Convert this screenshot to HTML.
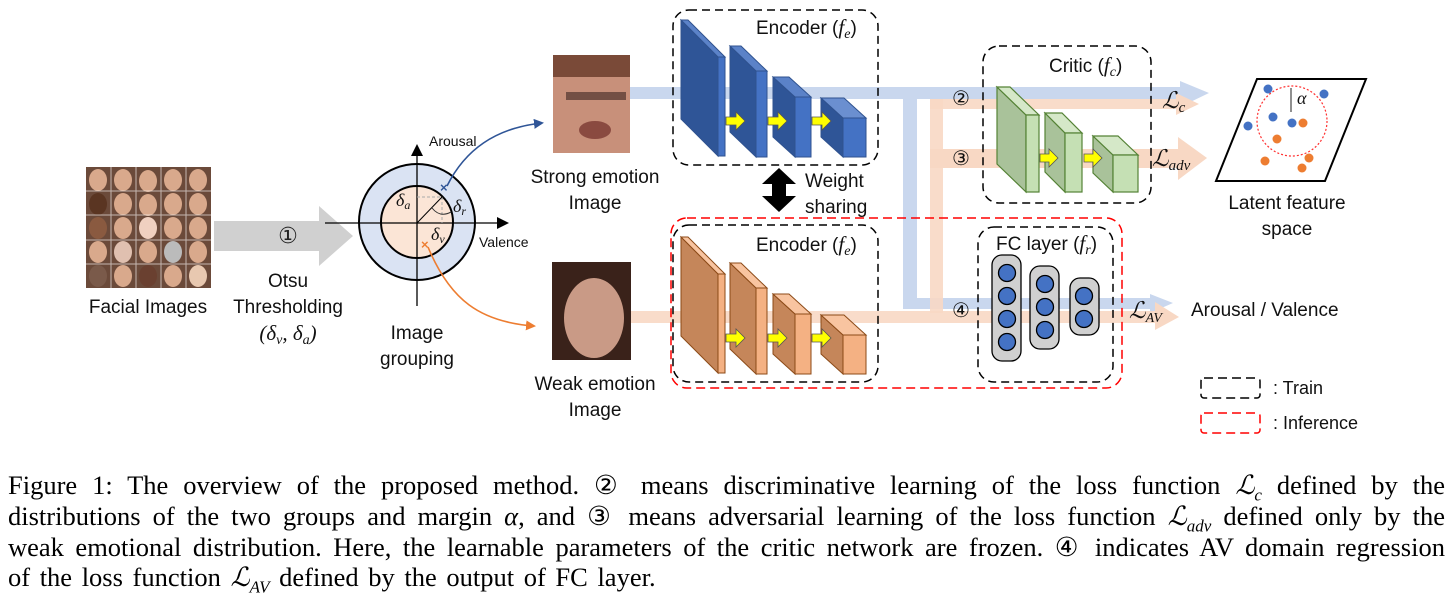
<!DOCTYPE html>
<html><head><meta charset="utf-8"><style>
html,body{margin:0;padding:0;background:#fff;}
body{width:1453px;height:596px;position:relative;overflow:hidden;}
svg{position:absolute;left:0;top:0;}
.s{font-family:"Liberation Sans",sans-serif;fill:#111;}
.m{font-family:"Liberation Serif",serif;font-style:italic;fill:#111;}
.cap{position:absolute;left:8px;width:1437px;font-family:"Liberation Serif",serif;font-size:26.5px;line-height:30px;color:#000;white-space:nowrap;}
.j{text-align:justify;text-align-last:justify;}
.cap i{font-family:"Liberation Serif",serif;}
.cap sub{font-size:17px;line-height:0;}
</style></head><body>
<svg width="1453" height="470" viewBox="0 0 1453 470">
<defs>
<marker id="ab" markerWidth="10" markerHeight="10" refX="8" refY="5" orient="auto" markerUnits="userSpaceOnUse"><path d="M0,0 L10,5 L0,10 Z" fill="#2f5597"/></marker>
<marker id="ao" markerWidth="10" markerHeight="10" refX="8" refY="5" orient="auto" markerUnits="userSpaceOnUse"><path d="M0,0 L10,5 L0,10 Z" fill="#ed7d31"/></marker>
<marker id="ak" markerWidth="12" markerHeight="12" refX="10" refY="6" orient="auto" markerUnits="userSpaceOnUse"><path d="M0,0 L12,6 L0,12 Z" fill="#000"/></marker>
</defs>

<!-- face grid -->
<g>
<rect x="86" y="167" width="125" height="121" fill="#6b4a3a"/>
<g fill="#d9a98c">
<ellipse cx="98" cy="180" rx="9" ry="11"/><ellipse cx="123" cy="180" rx="9" ry="11"/><ellipse cx="148" cy="181" rx="9" ry="11"/><ellipse cx="173" cy="180" rx="9" ry="11"/><ellipse cx="198" cy="180" rx="9" ry="11"/>
<ellipse cx="98" cy="204" rx="9" ry="11" fill="#5a3522"/><ellipse cx="123" cy="204" rx="9" ry="11"/><ellipse cx="148" cy="205" rx="9" ry="11"/><ellipse cx="173" cy="204" rx="9" ry="11"/><ellipse cx="198" cy="204" rx="9" ry="11"/>
<ellipse cx="98" cy="228" rx="9" ry="11" fill="#8a5a40"/><ellipse cx="123" cy="228" rx="9" ry="11"/><ellipse cx="148" cy="228" rx="9" ry="11" fill="#f0d0c0"/><ellipse cx="173" cy="228" rx="9" ry="11"/><ellipse cx="198" cy="228" rx="9" ry="11"/>
<ellipse cx="98" cy="252" rx="9" ry="11"/><ellipse cx="123" cy="252" rx="9" ry="11" fill="#e0c0b0"/><ellipse cx="148" cy="252" rx="9" ry="11"/><ellipse cx="173" cy="252" rx="9" ry="11" fill="#bbb"/><ellipse cx="198" cy="252" rx="9" ry="11"/>
<ellipse cx="98" cy="276" rx="9" ry="11" fill="#7a5a4a"/><ellipse cx="123" cy="276" rx="9" ry="11"/><ellipse cx="148" cy="276" rx="9" ry="11" fill="#6a4030"/><ellipse cx="173" cy="276" rx="9" ry="11"/><ellipse cx="198" cy="276" rx="9" ry="11" fill="#e8c8b0"/>
</g>
<g stroke="#fff" stroke-width="1" opacity="0.6"><line x1="111" y1="167" x2="111" y2="288"/><line x1="136" y1="167" x2="136" y2="288"/><line x1="161" y1="167" x2="161" y2="288"/><line x1="186" y1="167" x2="186" y2="288"/><line x1="86" y1="191" x2="211" y2="191"/><line x1="86" y1="215" x2="211" y2="215"/><line x1="86" y1="240" x2="211" y2="240"/><line x1="86" y1="264" x2="211" y2="264"/></g>
</g>
<text class="s" x="148" y="313" font-size="19" text-anchor="middle">Facial Images</text>

<!-- gray arrow -->
<path d="M214,221 L319,221 L319,206 L353,236 L319,266 L319,251 L214,251 Z" fill="#d0d0d0"/>
<text x="288" y="243" font-size="22" text-anchor="middle" font-family="DejaVu Sans,sans-serif" fill="#222">①</text>
<text class="s" x="288" y="287" font-size="19" text-anchor="middle">Otsu</text>
<text class="s" x="288" y="313" font-size="19" text-anchor="middle">Thresholding</text>
<text class="m" x="288" y="340" font-size="21" text-anchor="middle">(δ<tspan font-size="14" dy="4">v</tspan><tspan dy="-4">, δ</tspan><tspan font-size="14" dy="4">a</tspan><tspan dy="-4">)</tspan></text>

<!-- circle -->
<circle cx="417" cy="222" r="58" fill="#dae3f3" stroke="#000" stroke-width="2"/>
<circle cx="417" cy="222" r="36" fill="#fbe5d6" stroke="#000" stroke-width="2"/>
<line x1="417" y1="306" x2="417" y2="146" stroke="#000" stroke-width="1.3" marker-end="url(#ak)"/>
<line x1="325" y1="223" x2="507" y2="223" stroke="#000" stroke-width="1.3" marker-end="url(#ak)"/>
<line x1="417" y1="197" x2="442" y2="197" stroke="#aaa" stroke-dasharray="3,2"/>
<line x1="442" y1="197" x2="442" y2="223" stroke="#aaa" stroke-dasharray="3,2"/>
<line x1="417" y1="223" x2="442" y2="197" stroke="#000"/>
<path d="M432,208 Q440,218 451,212" fill="none" stroke="#333"/>
<text class="m" x="396" y="206" font-size="18">δ<tspan font-size="12" dy="3">a</tspan></text>
<text class="m" x="453" y="212" font-size="18">δ<tspan font-size="12" dy="3">r</tspan></text>
<text class="m" x="431" y="240" font-size="18">δ<tspan font-size="12" dy="3">v</tspan></text>
<text class="s" x="429" y="146" font-size="14">Arousal</text>
<text class="s" x="479" y="247" font-size="14">Valence</text>
<text class="s" x="417" y="339" font-size="19" text-anchor="middle">Image</text>
<text class="s" x="417" y="365" font-size="19" text-anchor="middle">grouping</text>
<text x="440" y="192" font-size="13" fill="#2f5597" font-weight="bold" font-family="Liberation Sans,sans-serif">×</text>
<text x="421" y="249" font-size="13" fill="#ed7d31" font-weight="bold" font-family="Liberation Sans,sans-serif">×</text>
<path d="M447,186 C465,150 495,128 542,123" fill="none" stroke="#2f5597" stroke-width="1.6" marker-end="url(#ab)"/>
<path d="M428,247 C450,300 480,322 534,326" fill="none" stroke="#ed7d31" stroke-width="1.6" marker-end="url(#ao)"/>

<!-- bands -->
<rect x="590" y="87" width="590" height="12" fill="#c9d7ee"/>
<path d="M1180,81 L1209,93 L1180,107 Z" fill="#c9d7ee"/>
<rect x="903" y="93" width="14" height="215" fill="#c9d7ee"/>
<rect x="903" y="298" width="250" height="11" fill="#c9d7ee"/>
<path d="M1150,294 L1173,303 L1150,313 Z" fill="#c9d7ee"/>
<rect x="930" y="99" width="248" height="10" fill="#f8d8c4" opacity="0.9"/>
<path d="M1176,93 L1199,104 L1176,115 Z" fill="#f8d8c4"/>
<rect x="930" y="99" width="13" height="214" fill="#f8d8c4" opacity="0.9"/>
<rect x="930" y="149" width="250" height="19" fill="#f8d8c4"/>
<path d="M1178,137 L1207,158 L1178,180 Z" fill="#f8d8c4"/>
<rect x="590" y="311" width="570" height="12" fill="#f8d8c4" opacity="0.9"/>
<path d="M1155,302 L1179,317 L1155,330 Z" fill="#f8d8c4"/>

<!-- photos -->
<rect x="553" y="55" width="77" height="98" fill="#c8907a"/>
<rect x="553" y="55" width="77" height="22" fill="#7a4a38"/>
<rect x="566" y="92" width="60" height="8" fill="#3a2520" opacity="0.6"/>
<ellipse cx="595" cy="130" rx="16" ry="9" fill="#8a4a40"/>
<rect x="552" y="262" width="79" height="98" fill="#3a221a"/>
<ellipse cx="594" cy="318" rx="30" ry="40" fill="#c99a86"/>
<path d="M560,300 Q590,255 628,300 L628,272 L560,272 Z" fill="#3a221a"/>
<text class="s" x="595" y="183" font-size="19" text-anchor="middle">Strong emotion</text>
<text class="s" x="595" y="209" font-size="19" text-anchor="middle">Image</text>
<text class="s" x="595" y="390" font-size="19" text-anchor="middle">Weak emotion</text>
<text class="s" x="595" y="416" font-size="19" text-anchor="middle">Image</text>

<!-- encoder blue -->
<rect x="673" y="10" width="205" height="155" rx="16" fill="none" stroke="#000" stroke-width="1.5" stroke-dasharray="8,5"/>
<text class="s" x="756" y="34" font-size="19">Encoder (<tspan class="m" font-size="21">f</tspan><tspan class="m" font-size="14" dy="4">e</tspan><tspan dy="-4">)</tspan></text>
<g stroke="#2f528f" stroke-width="1">
<polygon points="681,20 718,57 718,156 681,119" fill="#2f5597"/><polygon points="681,20 688,20 725,57 718,57" fill="#5b82c8"/><rect x="718" y="57" width="7" height="99" fill="#4472c4"/>
<polygon points="730,46 756,71 756,157 730,132" fill="#2f5597"/><polygon points="730,46 741,46 767,71 756,71" fill="#5b82c8"/><rect x="756" y="71" width="11" height="86" fill="#4472c4"/>
<polygon points="773,77 795,97 795,157 773,137" fill="#2f5597"/><polygon points="773,77 789,77 811,97 795,97" fill="#5b82c8"/><rect x="795" y="97" width="16" height="60" fill="#4472c4"/>
<polygon points="821,98 843,118 843,157 821,137" fill="#2f5597"/><polygon points="821,98 844,98 866,118 843,118" fill="#6b8fd0"/><rect x="843" y="118" width="23" height="39" fill="#4472c4"/>
</g>
<g fill="#ffff00" stroke="#555" stroke-width="0.8">
<path d="M726,117 L736,117 L736,112 L745,121 L736,130 L736,125 L726,125 Z"/>
<path d="M768,117 L778,117 L778,112 L787,121 L778,130 L778,125 L768,125 Z"/>
<path d="M812,117 L822,117 L822,112 L831,121 L822,130 L822,125 L812,125 Z"/>
</g>

<!-- weight sharing -->
<path d="M779,168 L796,184 L786,184 L786,196 L796,196 L779,212 L762,196 L772,196 L772,184 L762,184 Z" fill="#000"/>
<text class="s" x="805" y="187" font-size="19">Weight</text>
<text class="s" x="805" y="213" font-size="19">sharing</text>

<!-- red inference box -->
<rect x="671" y="218" width="451" height="170" rx="16" fill="none" stroke="#ff0000" stroke-width="1.5" stroke-dasharray="9,5"/>

<!-- encoder orange -->
<rect x="673" y="225" width="205" height="157" rx="16" fill="none" stroke="#000" stroke-width="1.5" stroke-dasharray="8,5"/>
<text class="s" x="756" y="251" font-size="19">Encoder (<tspan class="m" font-size="21">f</tspan><tspan class="m" font-size="14" dy="4">e</tspan><tspan dy="-4">)</tspan></text>
<g stroke="#8c4a17" stroke-width="1">
<polygon points="681,237 718,274 718,373 681,336" fill="#c5865a"/><polygon points="681,237 688,237 725,274 718,274" fill="#f8c4a0"/><rect x="718" y="274" width="7" height="99" fill="#f4b183"/>
<polygon points="730,263 756,288 756,374 730,349" fill="#c5865a"/><polygon points="730,263 741,263 767,288 756,288" fill="#f8c4a0"/><rect x="756" y="288" width="11" height="86" fill="#f4b183"/>
<polygon points="773,294 795,314 795,374 773,354" fill="#c5865a"/><polygon points="773,294 789,294 811,314 795,314" fill="#f8c4a0"/><rect x="795" y="314" width="16" height="60" fill="#f4b183"/>
<polygon points="821,315 843,335 843,374 821,354" fill="#c5865a"/><polygon points="821,315 844,315 866,335 843,335" fill="#f8c4a0"/><rect x="843" y="335" width="23" height="39" fill="#f4b183"/>
</g>
<g fill="#ffff00" stroke="#555" stroke-width="0.8">
<path d="M726,334 L736,334 L736,329 L745,338 L736,347 L736,342 L726,342 Z"/>
<path d="M768,334 L778,334 L778,329 L787,338 L778,347 L778,342 L768,342 Z"/>
<path d="M812,334 L822,334 L822,329 L831,338 L822,347 L822,342 L812,342 Z"/>
</g>

<!-- critic -->
<rect x="983" y="46" width="168" height="157" rx="16" fill="none" stroke="#000" stroke-width="1.5" stroke-dasharray="8,5"/>
<text class="s" x="1049" y="72" font-size="19">Critic (<tspan class="m" font-size="21">f</tspan><tspan class="m" font-size="14" dy="4">c</tspan><tspan dy="-4">)</tspan></text>
<g stroke="#548235" stroke-width="1.2">
<polygon points="997,87 1026,115 1026,192 997,164" fill="#a9c29a"/><polygon points="997,87 1010,87 1039,115 1026,115" fill="#d5e8c8"/><rect x="1026" y="115" width="13" height="77" fill="#c5e0b4"/>
<polygon points="1045,113 1065,133 1065,192 1045,172" fill="#a9c29a"/><polygon points="1045,113 1062,113 1082,133 1065,133" fill="#d5e8c8"/><rect x="1065" y="133" width="17" height="59" fill="#c5e0b4"/>
<polygon points="1093,136 1113,155 1113,192 1093,173" fill="#a9c29a"/><polygon points="1093,136 1118,136 1138,155 1113,155" fill="#d5e8c8"/><rect x="1113" y="155" width="25" height="37" fill="#c5e0b4"/>
</g>
<g fill="#ffff00" stroke="#555" stroke-width="0.8">
<path d="M1040,154 L1049,154 L1049,149 L1058,158 L1049,167 L1049,162 L1040,162 Z"/>
<path d="M1084,154 L1093,154 L1093,149 L1102,158 L1093,167 L1093,162 L1084,162 Z"/>
</g>

<!-- FC layer -->
<rect x="978" y="227" width="135" height="155" rx="16" fill="none" stroke="#000" stroke-width="1.5" stroke-dasharray="8,5"/>
<text class="s" x="996" y="250" font-size="19">FC layer (<tspan class="m" font-size="21">f</tspan><tspan class="m" font-size="14" dy="4">r</tspan><tspan dy="-4">)</tspan></text>
<g stroke="#000" stroke-width="1.3">
<rect x="992" y="255" width="29" height="106" rx="10" fill="#d0d0d0"/>
<rect x="1030" y="266" width="29" height="83" rx="10" fill="#d0d0d0"/>
<rect x="1070" y="278" width="29" height="57" rx="10" fill="#d0d0d0"/>
<g fill="#4472c4">
<circle cx="1007" cy="273" r="8.5"/><circle cx="1007" cy="296" r="8.5"/><circle cx="1007" cy="319" r="8.5"/><circle cx="1007" cy="342" r="8.5"/>
<circle cx="1045" cy="284" r="8.5"/><circle cx="1045" cy="307" r="8.5"/><circle cx="1045" cy="330" r="8.5"/>
<circle cx="1084" cy="296" r="8.5"/><circle cx="1084" cy="319" r="8.5"/>
</g></g>

<!-- circled numbers -->
<g font-family="DejaVu Sans,sans-serif" font-size="20" fill="#111" text-anchor="middle">
<text x="961" y="105">②</text><text x="961" y="165">③</text><text x="961" y="317">④</text>
</g>
<text class="m" x="1162" y="108" font-size="23">ℒ<tspan font-size="15" dy="4">c</tspan></text>
<text class="m" x="1152" y="166" font-size="23">ℒ<tspan font-size="15" dy="4">adv</tspan></text>
<text class="m" x="1129" y="318" font-size="23">ℒ<tspan font-size="14" dy="4">AV</tspan></text>
<text class="s" x="1191" y="316" font-size="19">Arousal / Valence</text>

<!-- latent space -->
<polygon points="1257,79 1366,79 1325,181 1216,181" fill="#fff" stroke="#000" stroke-width="2"/>
<circle cx="1292" cy="121" r="35" fill="none" stroke="#ff3030" stroke-width="1.2" stroke-dasharray="2,2"/>
<line x1="1291" y1="88" x2="1291" y2="112" stroke="#555" stroke-width="1.3"/>
<text class="m" x="1297" y="104" font-size="18">α</text>
<g fill="#4472c4"><circle cx="1268" cy="89" r="4.5"/><circle cx="1324" cy="94" r="4.5"/><circle cx="1273" cy="117" r="4.5"/><circle cx="1248" cy="126" r="4.5"/><circle cx="1292" cy="123" r="4.5"/></g>
<g fill="#ed7d31"><circle cx="1303" cy="123" r="4.5"/><circle cx="1277" cy="139" r="4.5"/><circle cx="1265" cy="161" r="4.5"/><circle cx="1309" cy="158" r="4.5"/><circle cx="1302" cy="168" r="4.5"/></g>
<text class="s" x="1287" y="209" font-size="19" text-anchor="middle">Latent feature</text>
<text class="s" x="1287" y="235" font-size="19" text-anchor="middle">space</text>

<!-- legend -->
<rect x="1201" y="378" width="59" height="20" rx="3" fill="none" stroke="#000" stroke-width="1.5" stroke-dasharray="9,5"/>
<text class="s" x="1273" y="394" font-size="18">: Train</text>
<rect x="1201" y="413" width="59" height="20" rx="3" fill="none" stroke="#ff0000" stroke-width="1.5" stroke-dasharray="9,5"/>
<text class="s" x="1273" y="429" font-size="18">: Inference</text>
</svg>

<div class="cap j" style="top:470px;">Figure 1: The overview of the proposed method. ② means discriminative learning of the loss function <i>ℒ<sub>c</sub></i> defined by the</div>
<div class="cap j" style="top:501px;">distributions of the two groups and margin <i>α</i>, and ③ means adversarial learning of the loss function <i>ℒ<sub>adv</sub></i> defined only by the</div>
<div class="cap j" style="top:532px;">weak emotional distribution. Here, the learnable parameters of the critic network are frozen. ④ indicates AV domain regression</div>
<div class="cap" style="top:562px;word-spacing:3px;">of the loss function <i>ℒ<sub>AV</sub></i> defined by the output of FC layer.</div>
</body></html>
